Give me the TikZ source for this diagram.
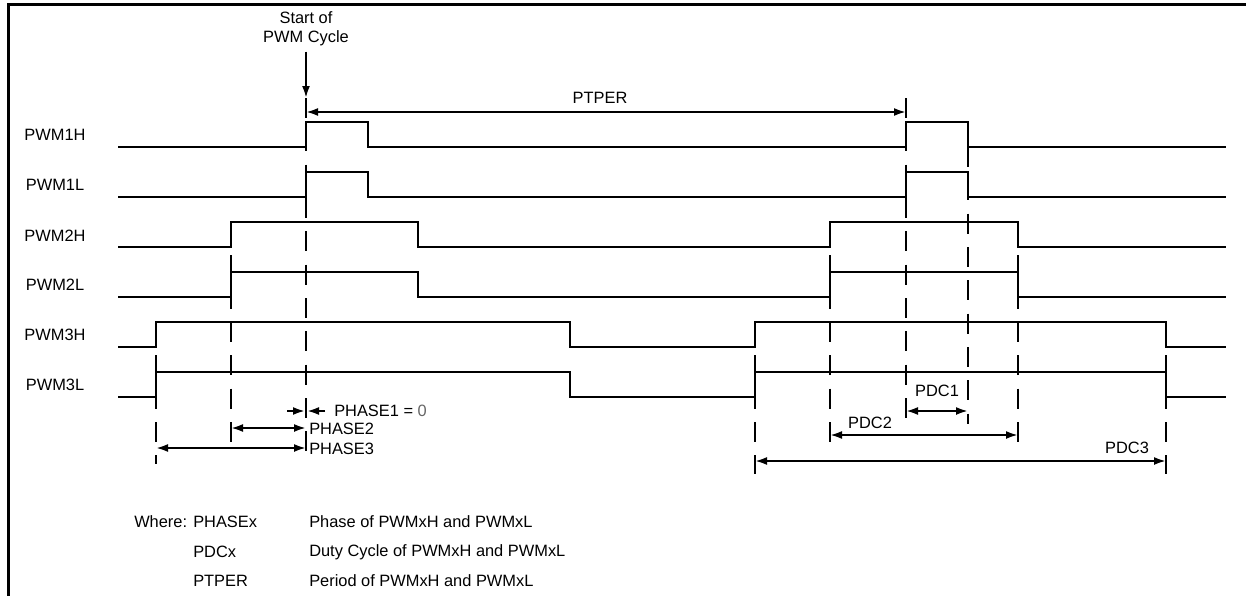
\documentclass[tikz,border=0pt]{standalone}
\usepackage{fontspec}
\setmainfont{Liberation Sans}
\usetikzlibrary{arrows.meta}
\begin{document}
\begin{tikzpicture}[x=0.75pt,y=-0.75pt,
  sig/.style={line width=1.6pt, line join=miter},
  vdash/.style={line width=1.6pt, dash pattern=on 15pt off 10pt},
  dim/.style={line width=1.6pt, {Latex[length=9pt,width=6pt]}-{Latex[length=9pt,width=6pt]}},
  onearrow/.style={line width=1.6pt, -{Latex[length=9pt,width=6pt]}},
  lbl/.style={font=\fontsize{12.3}{14.5}\selectfont, inner sep=0pt},
  lblw/.style={lbl, anchor=west},
]
\useasboundingbox (0,0) rectangle (1246,596);
\draw[line width=2.25pt] (8,596) -- (8,4) -- (1246,4);

% coordinates for the dimension markers
\coordinate (c0) at (306,98);
\coordinate (c0b) at (306,462);
\coordinate (c1) at (906,98);
\coordinate (c1b) at (906,420);
\coordinate (c2) at (231,222);
\coordinate (c2b) at (231,442);
\coordinate (c3) at (156,322);
\coordinate (c3b) at (156,464);
\coordinate (c4) at (968,147);
\coordinate (c4b) at (968,424);
\coordinate (c5) at (830,222);
\coordinate (c5b) at (830,448);
\coordinate (c6) at (1018,222);
\coordinate (c6b) at (1018,448);
\coordinate (c7) at (755,322);
\coordinate (c7b) at (755,474);
\coordinate (c8) at (1166,322);
\coordinate (c8b) at (1166,474);

% dashed reference lines
\foreach \a/\b in {c0/c0b,c1/c1b,c2/c2b,c3/c3b,c4/c4b,c5/c5b,c6/c6b,c7/c7b,c8/c8b}
  \draw[vdash] (\a) -- (\b);

% start of cycle
\node[lbl, align=center] (start) at (306,29) {Start of\\PWM Cycle};
\draw[onearrow] (start.south) ++(0,5) -- (c0);

% signal labels
\node[lbl] (p1h) at (55,135) {PWM1H};
\node[lbl] (p1l) at (55,185) {PWM1L};
\node[lbl] (p2h) at (55,236) {PWM2H};
\node[lbl] (p2l) at (55,285) {PWM2L};
\node[lbl] (p3h) at (55,335) {PWM3H};
\node[lbl] (p3l) at (55,385) {PWM3L};

% signals
\foreach \k in {0,1}{
  \pgfmathsetmacro{\lo}{147+50*\k}
  \pgfmathsetmacro{\hi}{122+50*\k}
  \draw[sig] (118,\lo) -- (306,\lo) -- (306,\hi) -- (368,\hi) -- (368,\lo) -- (906,\lo) -- (906,\hi) -- (968,\hi) -- (968,\lo) -- (1226,\lo);
}
\foreach \k in {2,3}{
  \pgfmathsetmacro{\lo}{147+50*\k}
  \pgfmathsetmacro{\hi}{122+50*\k}
  \draw[sig] (118,\lo) -- (231,\lo) -- (231,\hi) -- (418,\hi) -- (418,\lo) -- (830,\lo) -- (830,\hi) -- (1018,\hi) -- (1018,\lo) -- (1226,\lo);
}
\foreach \k in {4,5}{
  \pgfmathsetmacro{\lo}{147+50*\k}
  \pgfmathsetmacro{\hi}{122+50*\k}
  \draw[sig] (118,\lo) -- (156,\lo) -- (156,\hi) -- (570,\hi) -- (570,\lo) -- (755,\lo) -- (755,\hi) -- (1166,\hi) -- (1166,\lo) -- (1226,\lo);
}

% PTPER
\coordinate (pt0) at (306,112);
\coordinate (pt1) at (906,112);
\draw[dim] (pt0) -- (pt1);
\node[lbl] (ptper) at (600,98) {PTPER};

% phases
\coordinate (ph1a) at (287,411);
\coordinate (ph1l) at (305,411);
\coordinate (ph1r) at (307,411);
\coordinate (ph1b) at (325,411);
\draw[onearrow] (ph1a) -- (ph1l);
\draw[onearrow] (ph1b) -- (ph1r);
\node[lblw] (phase1) at (334,411) {PHASE1 = {\color{black!60}0}};

\coordinate (ph2a) at (231,428);
\coordinate (ph2b) at (306,428);
\draw[dim] (ph2a) -- (ph2b);
\node[lblw] (phase2) at (309,429) {PHASE2};

\coordinate (ph3a) at (156,448);
\coordinate (ph3b) at (306,448);
\draw[dim] (ph3a) -- (ph3b);
\node[lblw] (phase3) at (309,449) {PHASE3};

% duty cycles
\coordinate (d1a) at (906,411);
\coordinate (d1b) at (968,411);
\draw[dim] (d1a) -- (d1b);
\node[lbl] (pdc1) at (937,391) {PDC1};

\coordinate (d2a) at (830,435);
\coordinate (d2b) at (1018,435);
\draw[dim] (d2a) -- (d2b);
\node[lbl] (pdc2) at (870,423) {PDC2};

\coordinate (d3a) at (755,461);
\coordinate (d3b) at (1166,461);
\draw[dim] (d3a) -- (d3b);
\node[lbl] (pdc3) at (1127,448) {PDC3};

% legend
\node[lblw] (where) at (134,522) {Where:};
\node[lblw] (l1a) at (193,522) {PHASEx};
\node[lblw] (l1b) at (309,522) {Phase of PWMxH and PWMxL};
\node[lblw] (l2a) at (193,552) {PDCx};
\node[lblw] (l2b) at (309,552) {Duty Cycle of PWMxH and PWMxL};
\node[lblw] (l3a) at (193,581) {PTPER};
\node[lblw] (l3b) at (309,581) {Period of PWMxH and PWMxL};
\end{tikzpicture}
\end{document}
